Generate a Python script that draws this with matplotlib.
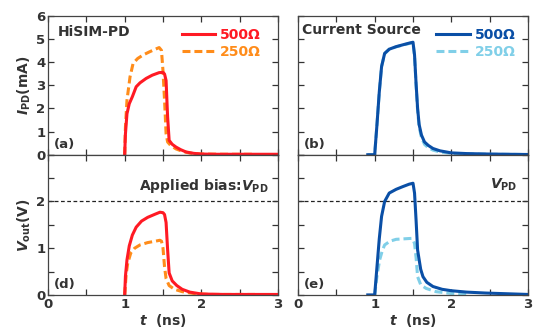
import numpy as np
import matplotlib
matplotlib.use('Agg')
import matplotlib.pyplot as plt
from matplotlib.ticker import MultipleLocator

plt.rcParams['font.family'] = ['DejaVu Sans']
plt.rcParams['font.weight'] = 'bold'
plt.rcParams['axes.labelweight'] = 'bold'
plt.rcParams['mathtext.fontset'] = 'custom'
plt.rcParams['mathtext.rm'] = 'DejaVu Sans:bold'
plt.rcParams['mathtext.it'] = 'DejaVu Sans:italic:bold'
plt.rcParams['mathtext.bf'] = 'DejaVu Sans:bold'

# (a) HiSIM-PD, photodiode current (mA)
t_a500 = [1.0, 1.01, 1.03, 1.06, 1.1, 1.15, 1.2, 1.28, 1.36, 1.45, 1.5, 1.52, 1.54,
          1.56, 1.58, 1.62, 1.67, 1.73, 1.8, 1.9, 2.0, 2.2, 2.5, 3.0]
i_a500 = [0, 0.9, 1.77, 2.2, 2.5, 2.93, 3.1, 3.29, 3.43, 3.54, 3.55, 3.48, 3.2,
          1.63, 0.62, 0.45, 0.33, 0.22, 0.12, 0.06, 0.03, 0.02, 0.02, 0.02]
t_a250 = [1.0, 1.01, 1.03, 1.07, 1.11, 1.17, 1.24, 1.32, 1.4, 1.45, 1.48, 1.5, 1.52,
          1.54, 1.56, 1.6, 1.67, 1.75, 1.85, 2.0, 2.3, 2.7]
i_a250 = [0, 1.2, 2.35, 3.36, 3.94, 4.15, 4.3, 4.43, 4.55, 4.62, 4.5, 3.6, 2.35,
          0.91, 0.55, 0.4, 0.25, 0.15, 0.07, 0.03, 0.02, 0.02]

# (b) current source, photodiode current (mA)
t_b = [0.91, 1.0, 1.03, 1.06, 1.09, 1.13, 1.19, 1.28, 1.38, 1.46, 1.5, 1.52, 1.54,
       1.56, 1.58, 1.61, 1.65, 1.7, 1.76, 1.85, 2.0, 2.2, 2.5, 3.0]
i_b500 = [0, 0, 1.3, 2.7, 3.8, 4.37, 4.55, 4.66, 4.75, 4.82, 4.85, 4.3, 3.07,
          2.0, 1.3, 0.85, 0.55, 0.4, 0.27, 0.17, 0.08, 0.05, 0.03, 0.01]
i_b250 = [0, 0, 1.3, 2.7, 3.8, 4.35, 4.55, 4.65, 4.74, 4.8, 4.83, 4.25, 3.0,
          1.9, 1.2, 0.75, 0.45, 0.3, 0.2, 0.12, 0.06, 0.03, 0.02, 0.01]

# (d) HiSIM-PD, output voltage (V)
t_d500 = [1.0, 1.01, 1.03, 1.06, 1.1, 1.15, 1.22, 1.3, 1.4, 1.46, 1.5, 1.52, 1.54,
          1.56, 1.58, 1.62, 1.68, 1.75, 1.85, 2.0, 2.3, 3.0]
v_d500 = [0, 0.4, 0.75, 1.05, 1.28, 1.45, 1.58, 1.66, 1.73, 1.77, 1.76, 1.72, 1.55,
          0.97, 0.47, 0.3, 0.2, 0.12, 0.06, 0.02, 0.01, 0.01]
t_d250 = [1.0, 1.02, 1.04, 1.08, 1.13, 1.2, 1.3, 1.4, 1.46, 1.48, 1.5, 1.52, 1.54,
          1.58, 1.65, 1.75, 1.9, 2.1, 2.7]
v_d250 = [0, 0.45, 0.68, 0.9, 1.0, 1.07, 1.12, 1.15, 1.17, 1.15, 1.0, 0.6, 0.35,
          0.2, 0.12, 0.07, 0.03, 0.01, 0.01]

# (e) current source, output voltage (V)
t_e500 = [0.91, 1.0, 1.03, 1.06, 1.09, 1.13, 1.19, 1.28, 1.37, 1.45, 1.5, 1.52, 1.54,
          1.56, 1.6, 1.63, 1.68, 1.76, 1.88, 2.0, 2.2, 2.45, 3.0]
v_e500 = [0, 0, 0.6, 1.2, 1.68, 2.0, 2.18, 2.26, 2.32, 2.37, 2.39, 2.18, 1.6,
          0.96, 0.55, 0.39, 0.27, 0.18, 0.12, 0.09, 0.06, 0.04, 0.01]
t_e250 = [1.0, 1.03, 1.065, 1.1, 1.13, 1.2, 1.28, 1.38, 1.48, 1.5, 1.52, 1.54, 1.56,
          1.6, 1.67, 1.8, 2.0, 2.2]
v_e250 = [0, 0.4, 0.75, 0.95, 1.07, 1.15, 1.19, 1.2, 1.21, 1.18, 1.1, 0.8, 0.39,
          0.22, 0.14, 0.07, 0.03, 0.02]

v_bias = 2.0

RED = '#ff1a24'
ORANGE = '#ff8c1a'
BLUE = '#0a4fa6'
LBLUE = '#80cfe8'
TXT = '#333333'
LW = 2.2
DASH = (0, (2.6, 1.3))
FS = 10

fig = plt.figure(figsize=(5.43, 3.31), dpi=100)
w = 0.4236
ax_a = fig.add_axes([0.0884, 0.5325, w, 0.4205])
ax_b = fig.add_axes([0.5488, 0.5325, w, 0.4205])
ax_d = fig.add_axes([0.0884, 0.109, w, 0.4235])
ax_e = fig.add_axes([0.5488, 0.109, w, 0.4235])


def style(ax, top):
    ax.set_xlim(0, 3)
    ax.xaxis.set_major_locator(MultipleLocator(1))
    ax.xaxis.set_minor_locator(MultipleLocator(0.5))
    if top:
        ax.set_ylim(0, 6)
        ax.yaxis.set_major_locator(MultipleLocator(1))
        ax.tick_params(labelbottom=False)
    else:
        ax.set_ylim(0, 3)
        ax.set_yticks([0, 1, 2])
        ax.yaxis.set_minor_locator(MultipleLocator(0.5))
        ax.axhline(v_bias, color='#222222', lw=0.9, ls=(0, (3, 2)), zorder=1)
    ax.tick_params(which='both', direction='in', top=True, right=True,
                   labelsize=9.5, colors=TXT, width=0.9, pad=2)
    ax.tick_params(which='major', length=4)
    ax.tick_params(which='minor', length=4)
    for s in ax.spines.values():
        s.set_color('#444444')
        s.set_linewidth(0.9)


def add_legend(ax, x):
    h, l = ax.get_legend_handles_labels()
    ax.legend(h[::-1], l[::-1], loc='upper right', bbox_to_anchor=(x, 1.0),
              frameon=False, handlelength=2.4, handletextpad=0.35, labelspacing=0.2,
              labelcolor='linecolor', prop={'size': FS, 'weight': 'bold'})


for ax, top in [(ax_a, True), (ax_b, True), (ax_d, False), (ax_e, False)]:
    style(ax, top)
ax_b.tick_params(labelleft=False)
ax_e.tick_params(labelleft=False)

# (a)
ax_a.plot(t_a250, i_a250, color=ORANGE, lw=LW, ls=DASH, label='250\u03a9')
ax_a.plot(t_a500, i_a500, color=RED, lw=LW, label='500\u03a9')
add_legend(ax_a, 0.98)
ax_a.text(0.13, 5.3, 'HiSIM-PD', fontsize=FS, color=TXT, va='center')
ax_a.text(0.08, 0.45, '(a)', fontsize=9.5, color=TXT, va='center')
ax_a.set_ylabel(r'$\mathit{I}_{\mathrm{PD}}$(mA)', fontsize=FS, color=TXT, labelpad=2)

# (b)
ax_b.plot(t_b, i_b250, color=LBLUE, lw=LW, ls=DASH, label='250\u03a9')
ax_b.plot(t_b, i_b500, color=BLUE, lw=LW, label='500\u03a9')
add_legend(ax_b, 1.0)
ax_b.text(0.05, 5.38, 'Current Source', fontsize=FS, color=TXT, va='center')
ax_b.text(0.08, 0.45, '(b)', fontsize=9.5, color=TXT, va='center')

# (d)
ax_d.plot(t_d250, v_d250, color=ORANGE, lw=LW, ls=DASH)
ax_d.plot(t_d500, v_d500, color=RED, lw=LW)
ax_d.text(2.88, 2.33, r'Applied bias:$\mathit{V}_{\mathrm{PD}}$', fontsize=FS,
          color=TXT, ha='right', va='center')
ax_d.text(0.08, 0.22, '(d)', fontsize=9.5, color=TXT, va='center')
ax_d.set_ylabel(r'$\mathit{V}_{\mathrm{out}}$(V)', fontsize=FS, color=TXT, labelpad=2)
ax_d.set_xlabel(r'$\mathit{t}$  (ns)', fontsize=FS, color=TXT, labelpad=1)

# (e)
ax_e.plot(t_e250, v_e250, color=LBLUE, lw=LW, ls=DASH)
ax_e.plot(t_e500, v_e500, color=BLUE, lw=LW)
ax_e.text(2.86, 2.35, r'$\mathit{V}_{\mathrm{PD}}$', fontsize=FS,
          color=TXT, ha='right', va='center')
ax_e.text(0.08, 0.22, '(e)', fontsize=9.5, color=TXT, va='center')
ax_e.set_xlabel(r'$\mathit{t}$  (ns)', fontsize=FS, color=TXT, labelpad=1)

fig.savefig('out.png', dpi=100)
